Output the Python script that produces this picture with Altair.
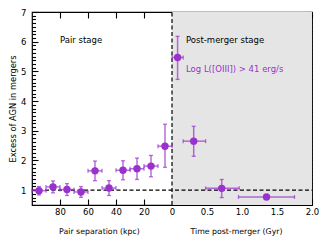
import altair as alt
import pandas as pd

# ---- data ----
# pair stage (projected separation bins, kpc)
sep_kpc = [95, 85, 75, 65, 55, 45, 35, 25, 15, 5]
sep_half_bin = [5, 5, 5, 5, 5, 5, 5, 5, 5, 5]
sep_excess = [0.98, 1.11, 1.02, 0.94, 1.65, 1.07, 1.67, 1.72, 1.81, 2.48]
sep_err_lo = [0.14, 0.20, 0.20, 0.18, 0.33, 0.25, 0.32, 0.36, 0.36, 0.71]
sep_err_hi = [0.14, 0.20, 0.20, 0.18, 0.33, 0.25, 0.32, 0.36, 0.36, 0.74]

# post-merger stage (Gyr)
post_time = [0.08, 0.31, 0.71, 1.35]
post_time_lo = [0.00, 0.16, 0.48, 0.95]
post_time_hi = [0.16, 0.48, 0.96, 1.75]
post_excess = [5.47, 2.65, 1.06, 0.77]
post_err_lo = [0.74, 0.51, 0.31, 0.04]
post_err_hi = [0.71, 0.50, 0.30, 0.04]

x_tick_vals = [-80, -60, -40, -20, 0, 25, 50, 75, 100]   # 80..0 kpc | 0.5..2.0 Gyr
y_tick_vals = [1, 2, 3, 4, 5, 6, 7]
y_minor_vals = [v / 8 for v in range(4, 57) if v % 8 != 0]

labels_text = ["Pair stage", "Post-merger stage", "Log L([OIII]) > 41 erg/s"]
labels_u = [-80, 10, 10]
labels_y = [6.07, 6.07, 5.07]
labels_color = ["black", "black", "#9932CC"]

GYR = 50.0  # 1 Gyr == 50 axis units (2 Gyr spans same width as 100 kpc)

rows = []
for s, h, v, lo, hi in zip(sep_kpc, sep_half_bin, sep_excess, sep_err_lo, sep_err_hi):
    rows.append(dict(u=-s, u_lo=-(s + h), u_hi=-(s - h), y=v, y_lo=v - lo, y_hi=v + hi))
for t, tl, th, v, lo, hi in zip(post_time, post_time_lo, post_time_hi, post_excess, post_err_lo, post_err_hi):
    rows.append(dict(u=t * GYR, u_lo=tl * GYR, u_hi=th * GYR, y=v, y_lo=v - lo, y_hi=v + hi))
df = pd.DataFrame(rows)

caps_v = pd.concat([df[["u"]].assign(yc=df["y_lo"]), df[["u"]].assign(yc=df["y_hi"])])
caps_h = pd.concat([df[["y"]].assign(uc=df["u_lo"]), df[["y"]].assign(uc=df["u_hi"])])

bg = pd.DataFrame({"x0": [0], "x1": [100], "yb": [0.5], "yt": [7]})
vline = pd.DataFrame({"vx": [0], "yb": [0.5], "yt": [7]})
hline = pd.DataFrame({"hy": [1], "xl": [-100], "xr": [100]})
labels = pd.DataFrame({"text": labels_text, "u": labels_u, "y": labels_y, "c": labels_color})

FONT = "DejaVu Sans"
xs = alt.Scale(domain=[-100, 100], nice=False, zero=False)
ys = alt.Scale(domain=[0.5, 7], nice=False, zero=False)
PURPLE = "#9932CC"

common = dict(grid=False, domain=False, tickColor="black", tickWidth=1.1,
              labelFont=FONT, labelColor="black", titleFont=FONT, titleColor="black",
              titleFontWeight="normal")

ax_bottom = alt.Axis(orient="bottom", values=x_tick_vals, offset=-6, tickSize=6,
                     labelExpr="datum.value <= 0 ? format(abs(datum.value), 'd') : format(datum.value / 50, '.1f')",
                     labelPadding=2, labelFontSize=8.5, labelFlush=False, labelOverlap=False,
                     titleFontSize=7.8, titleX=67, titleY=32,
                     titleAlign="center", titleBaseline="middle", **common)
ax_top = alt.Axis(orient="top", values=x_tick_vals, offset=-6, tickSize=6, labels=False, **common)
ax_bottom2 = alt.Axis(orient="bottom", ticks=False, labels=False,
                      titleFontSize=7.8, titleX=204, titleY=26,
                      titleAlign="center", titleBaseline="middle", **common)
ax_left = alt.Axis(orient="left", values=y_tick_vals, offset=-6, tickSize=6, labelPadding=6,
                   labelFontSize=8.5, labelOverlap=False, labelFlush=False,
                   titleFontSize=8.3, titleX=-25, titleY=96.5,
                   titleAngle=270, titleAlign="center", titleBaseline="middle", **common)
ax_left_minor = alt.Axis(orient="left", values=y_minor_vals, offset=-3.5, tickSize=3.5,
                         labels=False, **common)
ax_right = alt.Axis(orient="right", values=y_tick_vals, offset=-6, tickSize=6, labels=False, **common)
ax_right_minor = alt.Axis(orient="right", values=y_minor_vals, offset=-3.5, tickSize=3.5,
                          labels=False, **common)

l_bg = alt.Chart(bg).mark_rect(color="#e5e5e5").encode(
    x=alt.X("x0:Q", scale=xs, axis=ax_bottom, title="Pair separation (kpc)"),
    x2="x1:Q",
    y=alt.Y("yb:Q", scale=ys, axis=ax_left, title="Excess of AGN in mergers"),
    y2="yt:Q",
)
l_vline = alt.Chart(vline).mark_rule(color="black", strokeDash=[4, 2.5], strokeWidth=1.2).encode(
    x=alt.X("vx:Q", scale=xs, axis=ax_top, title=None),
    y=alt.Y("yb:Q", scale=ys, axis=ax_left_minor, title=None),
    y2="yt:Q",
)
l_hline = alt.Chart(hline).mark_rule(color="black", strokeDash=[4, 2.5], strokeWidth=1.2).encode(
    x=alt.X("xl:Q", scale=xs, axis=ax_bottom2, title="Time post-merger (Gyr)"),
    x2="xr:Q",
    y=alt.Y("hy:Q", scale=ys, axis=ax_right, title=None),
)
l_xerr = alt.Chart(df).mark_rule(color=PURPLE, opacity=0.7, strokeWidth=1.5).encode(
    x=alt.X("u_lo:Q", scale=xs, axis=None),
    x2="u_hi:Q",
    y=alt.Y("y:Q", scale=ys, axis=ax_right_minor, title=None),
)
l_yerr = alt.Chart(df).mark_rule(color=PURPLE, opacity=0.7, strokeWidth=1.5).encode(
    x=alt.X("u:Q", scale=xs, axis=None),
    y=alt.Y("y_lo:Q", scale=ys, axis=None),
    y2="y_hi:Q",
)
l_capv = alt.Chart(caps_v).mark_tick(color=PURPLE, opacity=0.7, orient="horizontal",
                                     size=4, thickness=1.3).encode(
    x=alt.X("u:Q", scale=xs, axis=None),
    y=alt.Y("yc:Q", scale=ys, axis=None),
)
l_caph = alt.Chart(caps_h).mark_tick(color=PURPLE, opacity=0.7, orient="vertical",
                                     size=4, thickness=1.3).encode(
    x=alt.X("uc:Q", scale=xs, axis=None),
    y=alt.Y("y:Q", scale=ys, axis=None),
)
l_pts = alt.Chart(df).mark_circle(color=PURPLE, opacity=1, size=55).encode(
    x=alt.X("u:Q", scale=xs, axis=None),
    y=alt.Y("y:Q", scale=ys, axis=None),
)
l_txt = alt.Chart(labels).mark_text(align="left", baseline="middle", font=FONT, fontSize=8.5).encode(
    x=alt.X("u:Q", scale=xs, axis=None),
    y=alt.Y("y:Q", scale=ys, axis=None),
    text="text:N",
    color=alt.Color("c:N", scale=None),
)

chart = alt.layer(
    l_bg, l_vline, l_hline, l_xerr, l_yerr, l_capv, l_caph, l_pts, l_txt
).resolve_axis(x="independent", y="independent").properties(
    width=280, height=193,
    autosize=alt.AutoSizeParams(type="none"),
    padding={"left": 24, "top": 4, "right": 7, "bottom": 32},
    background="white",
).configure_view(stroke="black", strokeWidth=1.2)

chart.save("out.html", embed_options={"renderer": "svg", "actions": False})
